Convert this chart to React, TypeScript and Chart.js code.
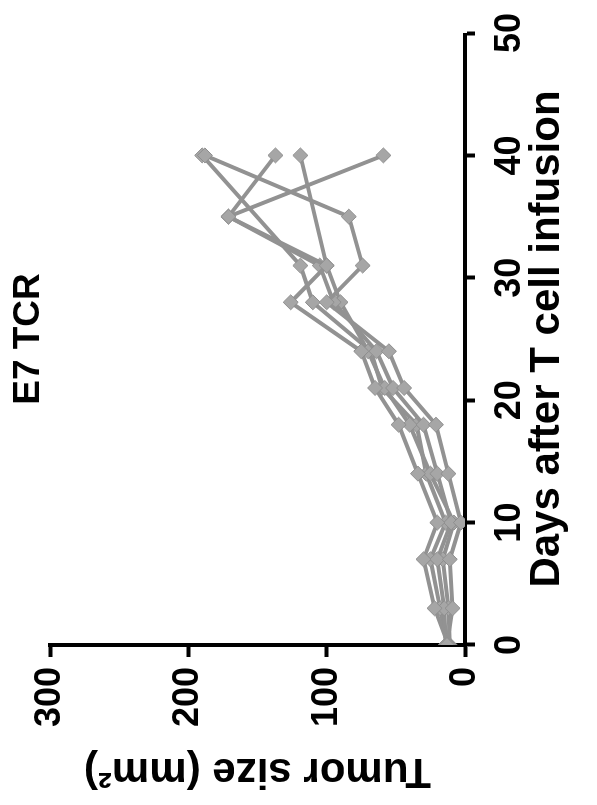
import React, { useEffect, useRef } from "react";
import { Chart, registerables } from "chart.js";

Chart.register(...registerables);

// ---- Data ----
const TITLE = "E7 TCR";
const X_TITLE = "Days after T cell infusion";
const Y_TITLE = "Tumor size (mm²)";

const DAYS = [0, 3, 7, 10, 14, 18, 21, 24, 28, 31, 35, 40];
const MOUSE_A = [13, 9, 11, 3, 12, 21, 44, 55, 100, 74, 84, 188];
const MOUSE_B = [12, 22, 30, 20, 34, 48, 65, 75, 126, 100, 171, 137];
const MOUSE_C = [14, 15, 20, 10, 20, 30, 52, 64, 95, 105, 171, 59];
const MOUSE_D = [11, 12, 16, 8, 25, 40, 58, 70, 90, 100, null, 119];
const MOUSE_E = [13, 18, 25, 14, 28, 35, 60, 68, 110, 119, null, 190];
const SERIES = [MOUSE_A, MOUSE_B, MOUSE_C, MOUSE_D, MOUSE_E];

const X_TICKS = [0, 10, 20, 30, 40, 50];
const Y_TICKS = [0, 100, 200, 300];

const W = 805;
const H = 597;
const FONT_FAMILY = '"Liberation Sans", Arial, Helvetica, sans-serif';

export default function App() {
  const ref = useRef<HTMLCanvasElement | null>(null);

  useEffect(() => {
    const canvas = ref.current;
    if (!canvas) return;

    const titlePlugin = {
      id: "topTitle",
      afterDraw(chart: any) {
        const { ctx, chartArea } = chart;
        ctx.save();
        ctx.font = `bold 37px ${FONT_FAMILY}`;
        ctx.fillStyle = "#000";
        ctx.textAlign = "center";
        ctx.textBaseline = "middle";
        ctx.fillText(TITLE, (chartArea.left + chartArea.right) / 2, 29);
        ctx.restore();
      },
    };

    const datasets = SERIES.map((s) => ({
      data: DAYS.map((d, i) => ({ x: d, y: s[i] })),
      borderColor: "#929292",
      borderWidth: 4,
      pointStyle: "rectRot" as const,
      pointRadius: 7.5,
      pointBackgroundColor: "#a6a6a6",
      pointBorderColor: "#8e8e8e",
      pointBorderWidth: 1,
      spanGaps: true,
      tension: 0,
      fill: false,
    }));

    const tickFont = { family: FONT_FAMILY, size: 36, weight: "bold" as const };
    const axisTitleFont = { family: FONT_FAMILY, size: 42, weight: "bold" as const };

    const chart = new Chart(canvas, {
      type: "line",
      data: { datasets },
      plugins: [titlePlugin],
      options: {
        responsive: false,
        animation: false,
        devicePixelRatio: 1,
        layout: { padding: { top: 50, right: 22, left: 0, bottom: 0 } },
        plugins: {
          legend: { display: false },
          tooltip: { enabled: false },
          title: { display: false },
        },
        scales: {
          x: {
            type: "linear",
            min: 0,
            max: 50,
            afterBuildTicks: (s: any) => {
              s.ticks = X_TICKS.map((v) => ({ value: v }));
            },
            afterFit: (s: any) => {
              s.height = 132;
            },
            border: { display: true, color: "#000", width: 4 },
            grid: {
              display: true,
              drawOnChartArea: false,
              drawTicks: true,
              tickLength: 10,
              tickWidth: 4,
              tickColor: "#000",
            },
            ticks: {
              color: "#000",
              font: tickFont,
              padding: 13,
              maxRotation: 0,
              autoSkip: false,
            },
            title: {
              display: true,
              text: X_TITLE,
              color: "#000",
              font: axisTitleFont,
              padding: { top: 0, bottom: 24 },
            },
          },
          y: {
            type: "linear",
            min: 0,
            max: 300,
            afterBuildTicks: (s: any) => {
              s.ticks = Y_TICKS.map((v) => ({ value: v }));
            },
            afterFit: (s: any) => {
              s.width = 160;
            },
            border: { display: true, color: "#000", width: 4 },
            grid: {
              display: true,
              drawOnChartArea: false,
              drawTicks: true,
              tickLength: 12,
              tickWidth: 4,
              tickColor: "#000",
            },
            ticks: {
              color: "#000",
              font: tickFont,
              padding: 10,
              autoSkip: false,
            },
            title: {
              display: true,
              text: Y_TITLE,
              color: "#000",
              font: axisTitleFont,
              padding: { top: 9, bottom: 0 },
            },
          },
        },
      },
    });

    return () => chart.destroy();
  }, []);

  return (
    <div
      style={{
        position: "fixed",
        left: 0,
        top: 0,
        width: H,
        height: W,
        overflow: "hidden",
        background: "#fff",
      }}
    >
      <div
        style={{
          position: "absolute",
          left: 0,
          top: 0,
          width: W,
          height: H,
          transformOrigin: "0 0",
          transform: `translateY(${W}px) rotate(-90deg)`,
        }}
      >
        <canvas ref={ref} width={W} height={H} style={{ display: "block", width: W, height: H }} />
      </div>
    </div>
  );
}
